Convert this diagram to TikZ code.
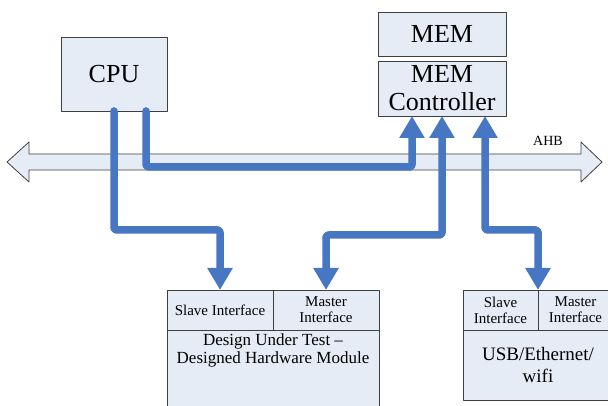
\documentclass[tikz,border=0pt]{standalone}
\usepackage{fontspec}
\setmainfont{Liberation Serif}
\usetikzlibrary{arrows.meta,calc}
\definecolor{boxfill}{HTML}{E6ECF6}
\definecolor{busblue}{HTML}{4777C2}
\definecolor{edgegray}{HTML}{3F3F3F}
\begin{document}
\begin{tikzpicture}[x=1pt,y=-1pt,line join=round,
	box/.style={draw=edgegray,fill=boxfill,line width=.8pt,inner sep=0pt,outer sep=0pt,align=center},
	big/.style={font=\fontsize{26}{28}\selectfont},
	small/.style={font=\fontsize{15}{16}\selectfont},
	bus/.style={draw=busblue,line width=7.5pt,rounded corners=2.5pt,line cap=round},
	>={Triangle[width=24pt,length=22pt]}]
		\useasboundingbox (0,0) rectangle (608,406);
		\clip (0,0) rectangle (608,406);
		\node[box,big,minimum width=106,minimum height=74] (cpu) at (114,74) {CPU};
		\node[box,big,minimum width=128,minimum height=44] (mem) at (442,34) {MEM};
		\node[box,big,minimum width=128,minimum height=55] (ctrl) at (442,88.5) {MEM\\Controller};
		\draw[edgegray,fill=boxfill,line width=.8pt] (7,162) -- (29,142) -- (29,154) -- (581,154) -- (581,142) -- (602,162) -- (581,182) -- (581,170) -- (29,170) -- (29,182) -- cycle;
		\node[font=\fontsize{14}{14}\selectfont] (ahb) at (548,141) {AHB};
		\foreach \n/\x/\w/\t in {dslave/167/106/Slave Interface,dmaster/273/106/Master\\Interface,uslave/463/75/Slave\\Interface,umaster/538/75/Master\\Interface}
		\node[box,small,minimum width=\w,minimum height=40,anchor=north west] (\n) at (\x,290) {\t};
		\node[box,minimum width=212,minimum height=90,anchor=north west] (dbody) at (167,330) {};
		\node[anchor=north,inner sep=0pt,align=center,font=\fontsize{17}{18}\selectfont] (dtext) at ($(dbody.north)+(0,4)$) {Design Under Test –\\Designed Hardware Module};
		\node[box,minimum width=150,minimum height=70,anchor=north west,font=\fontsize{19}{23}\selectfont] (ubody) at (463,330) {USB/Ethernet/\\wifi};
		\draw[bus,->] (cpu.south) -- ++(0,119) -| (dslave.north);
		\draw[bus,->] ($(cpu.south)+(32,0)$) -- ++(0,56) -| ($(ctrl.south)+(-30,0)$);
		\draw[bus,<->] (ctrl.south) -- ++(0,119) -| (dmaster.north);
		\draw[bus,<->] ($(ctrl.south)+(43,0)$) -- ++(0,114) -| (uslave.north east);
	\end{tikzpicture}
\end{document}
